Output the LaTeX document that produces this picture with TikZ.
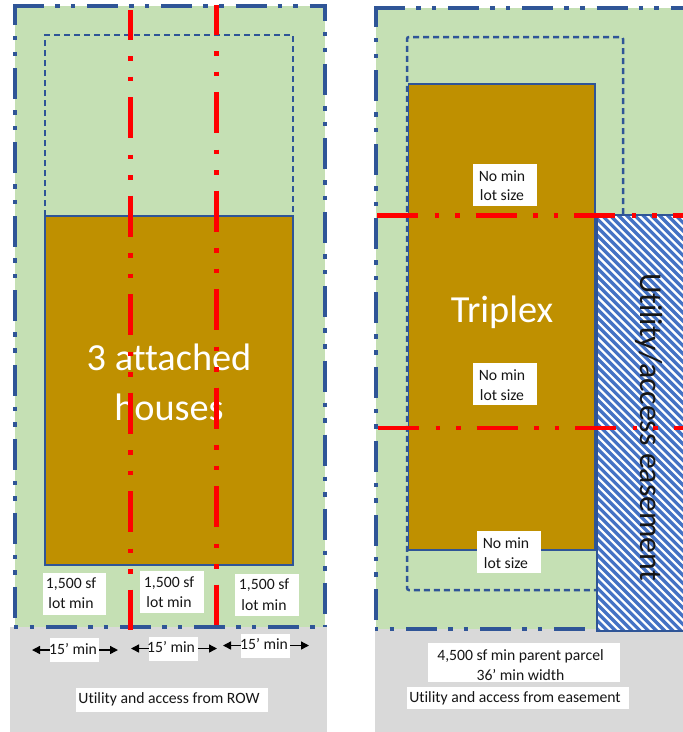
\documentclass[tikz,border=0pt]{standalone}
\usepackage{fontspec}
\setmainfont{Carlito}[Ligatures={NoCommon}]
\usetikzlibrary{arrows.meta}
\definecolor{lawn}{HTML}{C5E0B4}
\definecolor{pave}{HTML}{D9D9D9}
\definecolor{bldg}{HTML}{BF9000}
\definecolor{edge}{HTML}{2F5597}
\definecolor{hatch}{HTML}{4472C4}
\definecolor{ink}{HTML}{161616}
\tikzset{
  parcel/.style={edge,line width=3.6pt,dash pattern=on 31pt off 11pt on 4.4pt off 11.3pt on 4.4pt off 12pt},
  setback/.style={edge,line width=2.5pt,dash pattern=on 6pt off 4pt},
  house/.style={fill=bldg,draw=edge,line width=1.7pt},
  lotline/.style={red,line width=4.5pt,dash pattern=on 41pt off 16.5pt on 4.5pt off 16pt on 4.5pt off 16pt},
  whitebox/.style={fill=white},
  small/.style={anchor=base,inner sep=0pt,text=ink,font=\fontsize{15.7}{18}\selectfont},
  big/.style={anchor=base,inner sep=0pt,text=white,font=\fontsize{38.3}{46}\selectfont},
  dim/.style={black,line width=1.4pt,{Triangle[length=8pt,width=8pt]}-{Triangle[length=8pt,width=8pt]}},
}
\begin{document}
\begin{tikzpicture}[x=1pt,y=-1pt]
\useasboundingbox (0,0) rectangle (683,732);
% ---------- left panel
\fill[lawn] (15,6) rectangle (325,627);
\fill[pave] (10,627) rectangle (327,732);
\draw[parcel] (13.2,6) -- (326.8,6);
\draw[parcel,dash phase=12pt] (15,6) -- (15,627);
\draw[parcel,dash phase=16pt] (325,6) -- (325,627);
\draw[parcel,dash phase=42pt] (14,627) -- (326,627);
\draw[setback] (45,216) -- (45,35) -- (293,35) -- (293,216);
\draw[house] (45,216) rectangle (293,565);
\node[big] (t3a) at (169,370) {3 attached};
\node[big] (t3b) at (169,420) {houses};
\draw[lotline,dash phase=11.5pt] (130.5,10) -- (130.5,630);
\draw[lotline,dash phase=11.5pt] (216.5,5) -- (216.5,625);
\fill[whitebox] (43,573) rectangle (106,615);
\node[small] (la1) at (71,588) {1,500 sf};
\node[small] (la2) at (71,608) {lot min};
\fill[whitebox] (140,571) rectangle (204,613);
\node[small] (lb1) at (169,587) {1,500 sf};
\node[small] (lb2) at (169,607) {lot min};
\fill[whitebox] (235,574) rectangle (299,616);
\node[small] (lc1) at (264,589) {1,500 sf};
\node[small] (lc2) at (264,610) {lot min};
\coordinate (d1a) at (32,650); \coordinate (d1b) at (118,650);
\coordinate (d2a) at (131,648.5); \coordinate (d2b) at (217,648.5);
\coordinate (d3a) at (223,645.5); \coordinate (d3b) at (309,645.5);
\draw[dim] (d1a) -- (d1b);
\draw[dim] (d2a) -- (d2b);
\draw[dim] (d3a) -- (d3b);
\fill[whitebox] (50,638) rectangle (99,662);
\node[small] (w1) at (73,654) {15’ min};
\fill[whitebox] (149,637) rectangle (198,661);
\node[small] (w2) at (171,652) {15’ min};
\fill[whitebox] (241,634) rectangle (290,658);
\node[small] (w3) at (264,649) {15’ min};
\fill[whitebox] (76,688) rectangle (268,712);
\node[small] (urow) at (169,703) {Utility and access from ROW};
% ---------- right panel
\fill[lawn] (376,8) rectangle (683,629);
\fill[pave] (375,629) rectangle (683,732);
\draw[parcel] (374.2,8) -- (683,8);
\draw[parcel,dash phase=12pt] (376,8) -- (376,629);
\draw[parcel,dash phase=43pt] (375,629) -- (597,629);
\draw[setback,rounded corners=2pt] (623,214) -- (623,37) -- (407,37) -- (407,590) -- (597,590);
\draw[house] (408.5,84) rectangle (595,550);
\begin{scope}
\clip (597,215) rectangle (683,631);
\fill[white] (597,215) rectangle (683,631);
\foreach \k in {0,...,62}{
  \draw[hatch,line width=3.3pt] ({597-430+8.2*\k},215) -- ({597-430+8.2*\k+430},645);
}
\end{scope}
\draw[edge,line width=1.7pt] (683,215) -- (597,215) -- (597,631) -- (683,631);
\node[big] (tri) at (502,322) {Triplex};
\node[anchor=base,inner sep=0pt,text=ink,rotate=-90,font=\fontsize{31.8}{38}\selectfont] (ease) at (640,427) {Utility/access easement};
\draw[lotline] (377,215.5) -- (683,215.5);
\draw[lotline] (378,428) -- (683,428);
\fill[whitebox] (473,164) rectangle (537,206);
\node[small] (na1) at (502,181) {No min};
\node[small] (na2) at (502,200) {lot size};
\fill[whitebox] (473,363) rectangle (537,405);
\node[small] (nb1) at (502,380) {No min};
\node[small] (nb2) at (502,400) {lot size};
\fill[whitebox] (477,531) rectangle (541,573);
\node[small] (nc1) at (506,548) {No min};
\node[small] (nc2) at (506,568) {lot size};
\fill[whitebox] (428,643) rectangle (620,682);
\node[small] (p1) at (520.5,660) {4,500 sf min parent parcel};
\node[small] (p2) at (520.5,680) {36’ min width};
\fill[whitebox] (407,687) rectangle (629,709);
\node[small] (ueas) at (515,702) {Utility and access from easement};
\end{tikzpicture}
\end{document}
